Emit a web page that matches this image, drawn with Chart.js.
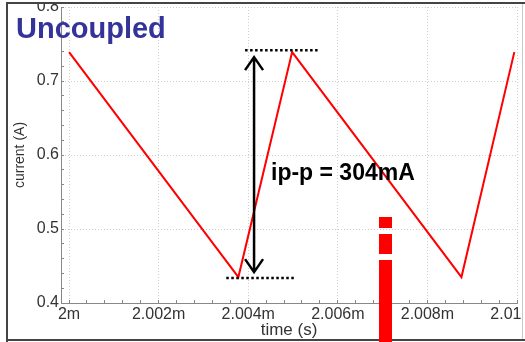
<!DOCTYPE html>
<html>
<head>
<meta charset="utf-8">
<script src="https://cdn.jsdelivr.net/npm/chart.js@4.4.1/dist/chart.umd.min.js"></script>
<style>
  html, body { margin: 0; padding: 0; background: #fff; }
  canvas { display: block; }
</style>
</head>
<body>
<canvas id="myChart" width="525" height="342"></canvas>
<script>
// data (time in ms, current in A)
const timeMs = [2.000, 2.00378, 2.00498, 2.00876, 2.00994];
const currentA = [0.739, 0.435, 0.739, 0.435, 0.739];

const xTicks = [2.000, 2.002, 2.004, 2.006, 2.008, 2.010];
// trailing spaces pull the last (clipped) label back inside the frame
const xTickLabels = ['2m', '2.002m', '2.004m', '2.006m', '2.008m', '2.01     '];
const yTicks = [0.4, 0.5, 0.6, 0.7, 0.8];

const peakA = 0.739;
const troughA = 0.435;
const ppLabel = 'ip-p = 304mA';

const tickFont = { family: 'Liberation Sans, Arial, sans-serif', size: 16 };

function withMinors(major, parts) {
    const out = [];
    for (let i = 0; i < major.length - 1; i++) {
        const step = (major[i + 1] - major[i]) / parts;
        for (let k = 0; k < parts; k++) out.push({ value: major[i] + k * step, major: k === 0 });
    }
    out.push({ value: major[major.length - 1], major: true });
    return out;
}

const overlay = {
    id: 'overlay',
    beforeDraw(chart) {
        const c = chart.ctx;
        c.save();
        c.fillStyle = '#fff';
        c.fillRect(0, 0, chart.width, chart.height);
        c.restore();
    },
    afterDraw(chart) {
        const c = chart.ctx;
        const xs = chart.scales.x, ys = chart.scales.y;
        c.save();

        // dotted level markers
        c.strokeStyle = '#000';
        c.lineWidth = 2.5;
        c.setLineDash([2.5, 2.5]);
        let yTop = ys.getPixelForValue(peakA) - 2;
        let yBot = ys.getPixelForValue(troughA) + 1;
        c.beginPath();
        c.moveTo(xs.getPixelForValue(2.00393), yTop);
        c.lineTo(xs.getPixelForValue(2.00556), yTop);
        c.moveTo(xs.getPixelForValue(2.00351), yBot);
        c.lineTo(xs.getPixelForValue(2.00507), yBot);
        c.stroke();

        // double arrow
        c.setLineDash([]);
        const ax = xs.getPixelForValue(2.00413);
        const a1 = yTop + 7, a2 = yBot - 6;
        c.lineWidth = 2.5;
        c.beginPath();
        c.moveTo(ax, a1); c.lineTo(ax, a2);
        c.moveTo(ax - 9, a1 + 13); c.lineTo(ax, a1); c.lineTo(ax + 9, a1 + 13);
        c.moveTo(ax - 9, a2 - 13); c.lineTo(ax, a2); c.lineTo(ax + 9, a2 - 13);
        c.stroke();

        // annotation text
        c.fillStyle = '#000';
        c.font = 'bold 23px Liberation Sans, Arial, sans-serif';
        c.textBaseline = 'alphabetic';
        c.fillText(ppLabel, 271, 180);

        // title
        c.fillStyle = '#333399';
        c.font = 'bold 29px Liberation Sans, Arial, sans-serif';
        c.fillText('Uncoupled', 16, 38);

        // frame
        c.fillStyle = '#fff';
        c.fillRect(0, 0, chart.width, 3);
        c.strokeStyle = '#c8c8c8';
        c.lineWidth = 1;
        c.beginPath();
        c.moveTo(522.5, 4); c.lineTo(522.5, 339);
        c.stroke();
        c.strokeStyle = '#444';
        c.lineWidth = 2;
        c.beginPath();
        c.moveTo(6, 3); c.lineTo(525, 3);
        c.moveTo(7, 3); c.lineTo(7, 342);
        c.moveTo(6, 340); c.lineTo(525, 340);
        c.stroke();

        // red marker bar (sits over the frame)
        c.fillStyle = '#ff0000';
        c.fillRect(379, 217, 13, 11);
        c.fillRect(379, 234, 13, 20);
        c.fillRect(379, 260, 13, 82);
        c.restore();
    }
};

const ctx = document.getElementById('myChart').getContext('2d');
const chart = new Chart(ctx, {
    type: 'line',
    data: {
        datasets: [{
            data: timeMs.map((t, i) => ({ x: t, y: currentA[i] })),
            borderColor: '#ff0000',
            borderWidth: 2,
            pointRadius: 0,
            tension: 0
        }]
    },
    options: {
        responsive: false,
        animation: false,
        layout: { padding: { left: 0, top: 7, right: 8, bottom: 0 } },
        plugins: { legend: { display: false }, tooltip: { enabled: false } },
        scales: {
            x: {
                type: 'linear',
                min: 1.99982,
                max: 2.010,
                afterBuildTicks: s => { s.ticks = withMinors(xTicks, 5); },
                afterFit: s => { s.height = 39; s.paddingLeft = 0; s.paddingRight = 0; },
                ticks: {
                    autoSkip: false,
                    maxRotation: 0,
                    padding: 5,
                    color: '#333',
                    font: tickFont,
                    callback: (v, i, t) => {
                        const k = xTicks.findIndex(m => Math.abs(m - v) < 1e-7);
                        return k >= 0 ? xTickLabels[k] : '';
                    }
                },
                grid: {
                    color: c => (c.tick && c.tick.major) ? '#cfcfcf' : 'rgba(0,0,0,0)',
                    tickColor: '#888',
                    tickLength: -3,
                    lineWidth: 1
                },
                border: { color: '#888', width: 1, dash: [1, 2] },
                title: {
                    display: true,
                    text: 'time (s)',
                    color: '#333',
                    font: { family: 'Liberation Sans, Arial, sans-serif', size: 17 },
                    padding: { top: 0, bottom: 1 }
                }
            },
            y: {
                min: 0.4,
                max: 0.8,
                afterBuildTicks: s => { s.ticks = withMinors(yTicks, 5); },
                afterFit: s => { s.width = 61; s.paddingTop = 0; s.paddingBottom = 0; },
                ticks: {
                    autoSkip: false,
                    padding: 5,
                    color: '#333',
                    font: tickFont,
                    callback: (v) => {
                        const k = yTicks.findIndex(m => Math.abs(m - v) < 1e-7);
                        return k >= 0 ? yTicks[k].toFixed(1) : '';
                    }
                },
                grid: {
                    color: c => (c.tick && c.tick.major) ? '#cfcfcf' : 'rgba(0,0,0,0)',
                    tickColor: '#888',
                    tickLength: -3,
                    lineWidth: 1
                },
                border: { color: '#888', width: 1, dash: [1, 2] },
                title: {
                    display: true,
                    text: 'current (A)',
                    color: '#333',
                    font: { family: 'Liberation Sans, Arial, sans-serif', size: 14 },
                    padding: { top: 12, bottom: 0 }
                }
            }
        }
    },
    plugins: [overlay]
});
</script>
</body>
</html>
